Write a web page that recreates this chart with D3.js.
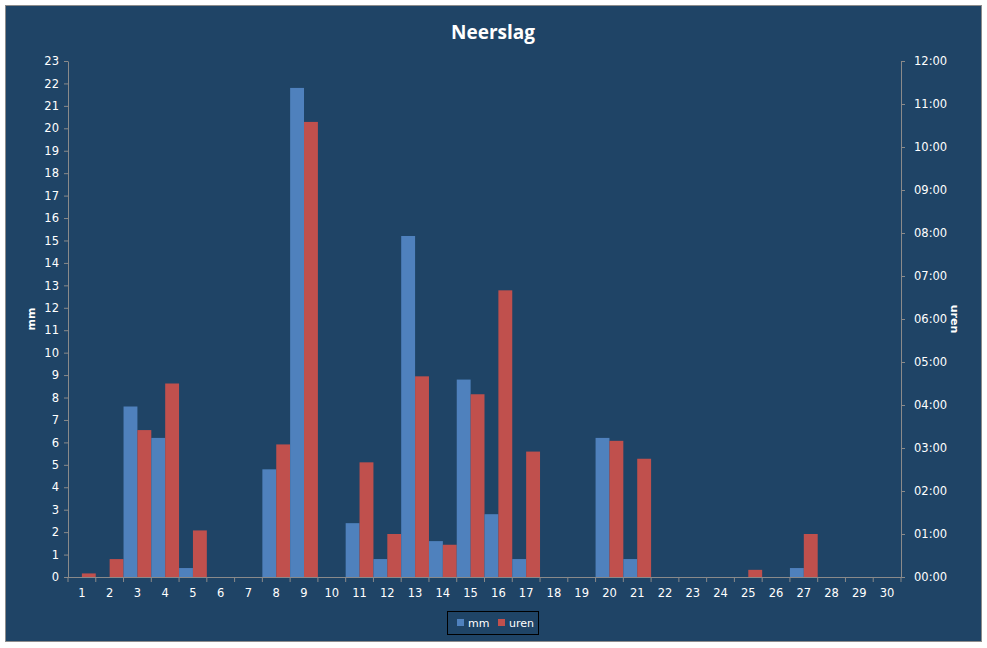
<!DOCTYPE html>
<html><head><meta charset="utf-8">
<script src="https://cdn.jsdelivr.net/npm/d3@7"></script>
<style>
html,body{margin:0;padding:0;background:#fff;}
svg text{font-family:"DejaVu Sans",sans-serif;}
</style></head>
<body>
<svg id="c" width="987" height="648"></svg>
<script>
const days = d3.range(1,31).map(String);
const mm = [0,0,7.6,6.2,0.4,0,0,4.8,21.8,0,2.4,0.8,15.2,1.6,8.8,2.8,0.8,0,0,6.2,0.8,0,0,0,0,0,0.4,0,0,0];
// uren in minutes
const urenMin = [5,25,205,270,65,0,0,185,635,0,160,60,280,45,255,400,175,0,0,190,165,0,0,0,10,0,60,0,0,0];
const mmTicks = d3.range(0,24);
const urenTicks = d3.range(0,13).map(h=>h*60);
const seriesNames = ["mm","uren"];
const colors = {mm:"#4F81BD", uren:"#C0504D"};

const svg = d3.select("#c");
const bg = "#1F4466";
svg.append("rect").attr("x",5.5).attr("y",5.5).attr("width",976).attr("height",636)
  .attr("fill",bg).attr("stroke","#8c8c8c").attr("stroke-width",1);

const L=68, R=901, T=61, B=577;
const x = d3.scaleBand().domain(days).range([L,R]).paddingInner(0).paddingOuter(0);
const xs = d3.scaleBand().domain(seriesNames).range([0,x.bandwidth()]);
const yL = d3.scaleLinear().domain([0,23]).range([B,T]);
const yR = d3.scaleLinear().domain([0,720]).range([B,T]);

// bars
const g = svg.append("g");
days.forEach((d,i)=>{
  if(mm[i]>0) g.append("rect").attr("x",x(d)+xs("mm")).attr("width",xs.bandwidth())
    .attr("y",yL(mm[i])).attr("height",B-yL(mm[i])).attr("fill",colors.mm);
  if(urenMin[i]>0) g.append("rect").attr("x",x(d)+xs("uren")).attr("width",xs.bandwidth())
    .attr("y",yR(urenMin[i])).attr("height",B-yR(urenMin[i])).attr("fill",colors.uren);
});

const axisColor="#8a8a8a", textColor="#ffffff";
function style(sel){
  sel.select(".domain").attr("stroke",axisColor);
  sel.selectAll(".tick line").attr("stroke",axisColor);
  sel.selectAll("text").attr("fill",textColor).attr("font-size","11.5px").attr("font-family","DejaVu Sans, sans-serif");
}
const ax = svg.append("g").attr("transform",`translate(0,${B})`)
  .call(d3.axisBottom(x).tickSize(0).tickPadding(12));
ax.select(".domain").remove();
ax.append("line").attr("x1",L).attr("x2",R).attr("y1",0.5).attr("y2",0.5).attr("stroke",axisColor);
// category boundary ticks
ax.selectAll(".bt").data(d3.range(0,31)).enter().append("line")
  .attr("x1",i=>L+i*x.step()).attr("x2",i=>L+i*x.step()).attr("y1",0).attr("y2",5).attr("stroke",axisColor);
style(ax);
ax.select(".domain").remove();

const al = svg.append("g").attr("transform",`translate(${L},0)`)
  .call(d3.axisLeft(yL).tickValues(mmTicks).tickSize(4).tickSizeOuter(0).tickPadding(5));
style(al);

const fmt = m => d3.format("02")(Math.floor(m/60))+":"+d3.format("02")(m%60);
const ar = svg.append("g").attr("transform",`translate(${R},0)`)
  .call(d3.axisRight(yR).tickValues(urenTicks).tickFormat(fmt).tickSize(4).tickSizeOuter(0).tickPadding(9));
style(ar);

// title
svg.append("text").attr("x",493).attr("y",39).attr("text-anchor","middle")
  .attr("fill","#fff").attr("font-size","19px").attr("font-weight","bold")
  .style("font-family","'Open Sans',sans-serif").text("Neerslag");

// axis titles
svg.append("text").attr("transform","translate(35,319) rotate(-90)").attr("text-anchor","middle")
  .attr("fill","#fff").attr("font-size","11px").attr("font-weight","bold").text("mm");
svg.append("text").attr("transform","translate(951,319) rotate(90)").attr("text-anchor","middle")
  .attr("fill","#fff").attr("font-size","11px").attr("font-weight","bold").text("uren");

// legend
const lg = svg.append("g");
lg.append("rect").attr("x",447.5).attr("y",611.5).attr("width",91).attr("height",23)
  .attr("fill","none").attr("stroke","#000").attr("stroke-width",1);
const items=[{n:"mm",x:457},{n:"uren",x:498}];
items.forEach(it=>{
  lg.append("rect").attr("x",it.x).attr("y",619).attr("width",7).attr("height",7).attr("fill",colors[it.n]);
  lg.append("text").attr("x",it.x+11).attr("y",627).attr("fill","#fff").attr("font-size","11px").text(it.n);
});
</script>
</body></html>
